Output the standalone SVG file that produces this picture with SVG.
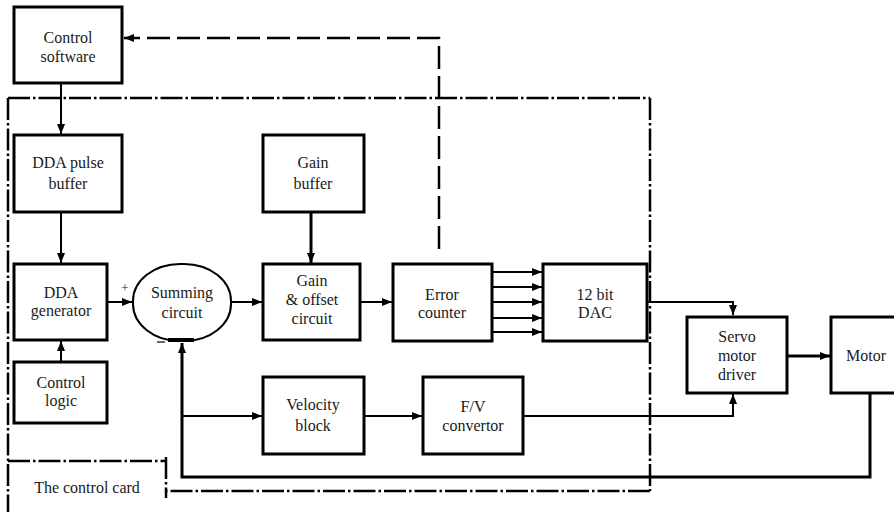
<svg xmlns="http://www.w3.org/2000/svg" width="894" height="512" viewBox="0 0 894 512">
<style>
.box{fill:#fff;stroke:#000;stroke-width:3}
text{font-family:'Liberation Serif','DejaVu Serif','Times New Roman',serif;font-size:16px;fill:#1a1a1a;text-anchor:middle}
.c{fill:none;stroke:#000;stroke-width:2}
.thick{fill:none;stroke:#000;stroke-width:3}
.dash{fill:none;stroke:#000;stroke-width:2.5;stroke-dasharray:23 7}
.dd{fill:none;stroke:#000;stroke-width:2.5;stroke-dasharray:22 3 2.5 3}
</style>
<defs>
<marker id="ah" viewBox="0 0 10 8" refX="10" refY="4" markerWidth="10" markerHeight="8" markerUnits="userSpaceOnUse" orient="auto"><path d="M0,0 L10,4 L0,8 z" fill="#000"/></marker>
</defs>
<rect width="894" height="512" fill="#fff"/>
<g id="control-card-border">
<line class="dd" x1="8" y1="98" x2="650" y2="98"/>
<line class="dd" x1="8" y1="98" x2="8" y2="512"/>
<line class="dd" x1="650" y1="98" x2="650" y2="491"/>
<line class="dd" x1="650" y1="491" x2="166" y2="491"/>
<line class="dd" x1="8" y1="461" x2="166" y2="461"/>
<line class="dd" x1="166" y1="457" x2="166" y2="498"/>
<text x="87" y="493">The control card</text>
</g>
<g id="connectors">
<path class="dash" d="M439,249 V38 H124" marker-end="url(#ah)"/>
<line class="c" x1="61" y1="83" x2="61" y2="134" marker-end="url(#ah)"/>
<line class="c" x1="61" y1="212" x2="61" y2="263" marker-end="url(#ah)"/>
<line class="c" x1="61" y1="362" x2="61" y2="341" marker-end="url(#ah)"/>
<line class="c" x1="107" y1="302" x2="132" y2="302" marker-end="url(#ah)"/>
<line class="c" x1="231" y1="302" x2="262" y2="302" marker-end="url(#ah)"/>
<line class="thick" x1="311" y1="212" x2="311" y2="263" marker-end="url(#ah)"/>
<line class="c" x1="360" y1="302" x2="392" y2="302" marker-end="url(#ah)"/>
<line class="c" x1="492" y1="272" x2="542" y2="272" marker-end="url(#ah)"/>
<line class="c" x1="492" y1="287" x2="542" y2="287" marker-end="url(#ah)"/>
<line class="c" x1="492" y1="302" x2="542" y2="302" marker-end="url(#ah)"/>
<line class="c" x1="492" y1="318" x2="542" y2="318" marker-end="url(#ah)"/>
<line class="c" x1="492" y1="332" x2="542" y2="332" marker-end="url(#ah)"/>
<path class="c" d="M647,302 H733 V315" marker-end="url(#ah)"/>
<line class="thick" x1="787" y1="356" x2="830" y2="356" marker-end="url(#ah)"/>
<path class="thick" d="M870,393 V477 H182 V343" marker-end="url(#ah)"/>
<line class="c" x1="182" y1="416" x2="262" y2="416" marker-end="url(#ah)"/>
<line class="c" x1="364" y1="416" x2="422" y2="416" marker-end="url(#ah)"/>
<path class="c" d="M523,416 H733 V394" marker-end="url(#ah)"/>
</g>
<g id="control-software"><rect class="box" x="14" y="7" width="108" height="76"/><text x="68" y="43">Control</text><text x="68" y="62">software</text></g>
<g id="dda-pulse-buffer"><rect class="box" x="14" y="135" width="108" height="77"/><text x="68" y="168">DDA pulse</text><text x="68" y="189">buffer</text></g>
<g id="dda-generator"><rect class="box" x="14" y="264" width="93" height="76"/><text x="61" y="298">DDA</text><text x="61" y="316">generator</text></g>
<g id="control-logic"><rect class="box" x="14" y="362" width="93" height="61"/><text x="61" y="388">Control</text><text x="61" y="406">logic</text></g>
<g id="summing-circuit"><rect class="box" x="133" y="264" width="98" height="77" rx="47" ry="37" style="stroke-width:2"/><text x="182" y="298">Summing</text><text x="182" y="318">circuit</text>
<line x1="168" y1="340" x2="194" y2="340" stroke="#000" stroke-width="4"/>
<text x="125" y="292" style="font-size:13px">+</text><line x1="157" y1="342" x2="165" y2="342" stroke="#333" stroke-width="1.5"/></g>
<g id="gain-buffer"><rect class="box" x="263" y="135" width="101" height="77"/><text x="313" y="168">Gain</text><text x="313" y="189">buffer</text></g>
<g id="gain-offset-circuit"><rect class="box" x="263" y="264" width="97" height="76"/><text x="312" y="286">Gain</text><text x="312" y="305">&amp; offset</text><text x="312" y="324">circuit</text></g>
<g id="error-counter"><rect class="box" x="393" y="264" width="99" height="77"/><text x="442" y="300">Error</text><text x="442" y="318">counter</text></g>
<g id="dac"><rect class="box" x="543" y="264" width="104" height="77"/><text x="595" y="300">12 bit</text><text x="595" y="318">DAC</text></g>
<g id="velocity-block"><rect class="box" x="263" y="377" width="101" height="77"/><text x="313" y="410">Velocity</text><text x="313" y="431">block</text></g>
<g id="fv-convertor"><rect class="box" x="423" y="377" width="100" height="77"/><text x="473" y="412">F/V</text><text x="473" y="431">convertor</text></g>
<g id="servo-motor-driver"><rect class="box" x="687" y="317" width="100" height="76"/><text x="737" y="342">Servo</text><text x="737" y="361">motor</text><text x="737" y="380">driver</text></g>
<g id="motor"><rect class="box" x="831" y="317" width="70" height="76"/><text x="866" y="361">Motor</text></g>
</svg>
